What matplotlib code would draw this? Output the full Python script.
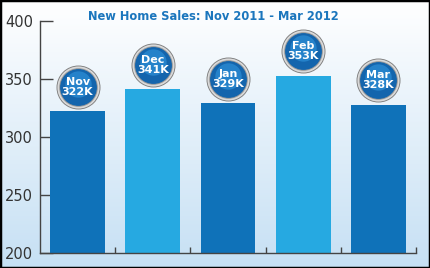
import matplotlib
matplotlib.use('Agg')
import matplotlib.pyplot as plt
import numpy as np
from matplotlib.patches import Rectangle

# Data
months = ['Nov', 'Dec', 'Jan', 'Feb', 'Mar']
sales = [322, 341, 329, 353, 328]
badge_labels = ['322K', '341K', '329K', '353K', '328K']
yticks = [200, 250, 300, 350, 400]

dark_blue = '#0f72b9'
light_blue = '#26a9e1'
bar_colors = [dark_blue, light_blue, dark_blue, light_blue, dark_blue]

fig = plt.figure(figsize=(4.3, 2.68), dpi=100)

# background gradient
bg = fig.add_axes([0, 0, 1, 1])
grad = np.linspace(0, 1, 256).reshape(-1, 1)
top = np.array([1.0, 1.0, 1.0])
bottom = np.array([0xc6, 0xe0, 0xf4]) / 255
img = top + (bottom - top) * grad[:, :, None]
bg.imshow(img, aspect='auto', extent=[0, 1, 0, 1])
bg.set_axis_off()
bg.add_patch(Rectangle((0, 0), 1, 1, transform=bg.transAxes, fill=False,
                       edgecolor='black', linewidth=2.5, clip_on=False))

ax = fig.add_axes([40 / 430, 15 / 268, 376 / 430, 232 / 268])
ax.patch.set_alpha(0)

x = np.arange(len(months))
ax.bar(x, sales, width=0.73, bottom=0, color=bar_colors, zorder=2)

ax.set_xlim(-0.5, 4.5)
ax.set_ylim(200, 400)
ax.set_yticks(yticks)
ax.set_yticklabels([str(v) for v in yticks], fontsize=10.5, color='#333333')
ax.set_xticks(x + 0.5)
ax.set_xticklabels([])
ax.tick_params(axis='y', direction='in', length=9, width=1, color='#444444', pad=5)
ax.tick_params(axis='x', direction='in', length=4, width=1, color='#444444')
for s in ['top', 'right']:
    ax.spines[s].set_visible(False)
for s in ['left', 'bottom']:
    ax.spines[s].set_color('#444444')
    ax.spines[s].set_linewidth(1)

# badges above bars
by = [v + 21 for v in sales]
ax.scatter(x, by, s=940, color='#808080', zorder=3, clip_on=False)
ax.scatter(x, by, s=860, color='#dadada', zorder=4, clip_on=False)
ax.scatter(x, by, s=720, color='#9a9a9a', zorder=5, clip_on=False)
ax.scatter(x, by, s=650, color='#1465ad', zorder=6, clip_on=False)
ax.scatter(x, [v + 2.5 for v in by], s=360, color='#2a8ad2', alpha=0.8,
           zorder=7, clip_on=False, linewidths=0)
for xi, yi, m, lab in zip(x, by, months, badge_labels):
    ax.text(xi, yi, m + '\n' + lab, ha='center', va='center', color='white',
            fontsize=8, fontweight='bold', linespacing=0.95, zorder=8)

fig.text(213 / 430, 1 - 17 / 268, 'New Home Sales: Nov 2011 - Mar 2012',
         ha='center', va='center', fontsize=8.3, fontweight='bold', color='#1b76bd')

fig.savefig('out.png', dpi=100)
